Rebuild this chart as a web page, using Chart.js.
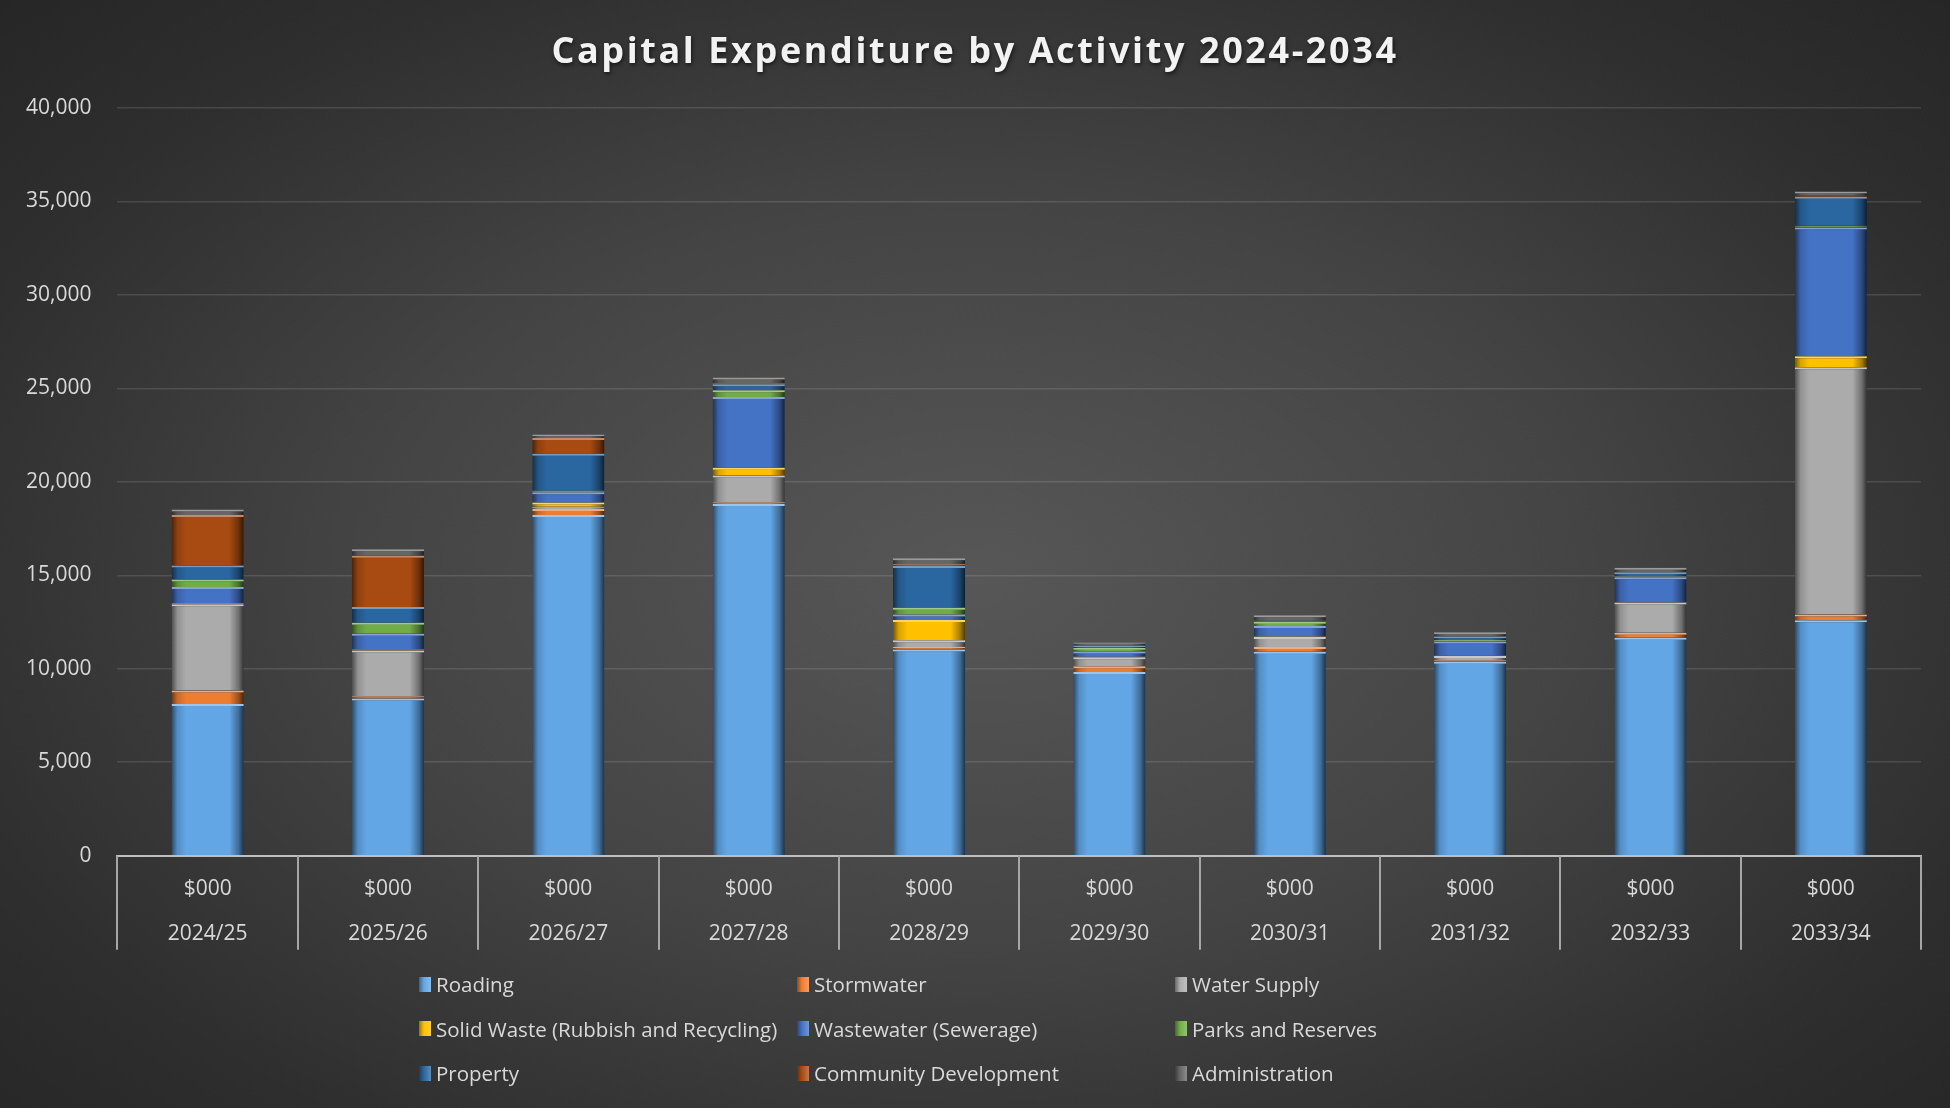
<!DOCTYPE html>
<html>
<head>
<meta charset="utf-8">
<script src="https://cdn.jsdelivr.net/npm/chart.js@4/dist/chart.umd.min.js"></script>
<style>
    html, body { margin: 0; padding: 0; overflow: hidden; }
    body { width: 1950px; height: 1108px; }
    #wrap {
        position: relative;
        width: 1950px;
        height: 1108px;
        background: radial-gradient(ellipse 70% 75% at 50% 52%, #575757 0%, #444444 45%, #2e2e2e 80%, #262626 100%);
    }
    #chart { position: absolute; left: 0; top: 0; }
    #legend {
        position: absolute;
        left: 419px;
        top: 962px;
        display: grid;
        grid-template-columns: 378px 378px 378px;
        grid-auto-rows: 44.5px;
        font-family: "Open Sans", sans-serif;
        font-size: 20.5px;
        color: #d9d9d9;
    }
    .item { display: flex; align-items: center; white-space: nowrap; }
    .swatch { width: 12px; height: 15px; margin-right: 5px; }
</style>
</head>
<body>
<div id="wrap">
    <canvas id="chart" width="1950" height="1108"></canvas>
    <div id="legend"></div>
</div>
<script>
const chartTitle = "Capital Expenditure by Activity 2024-2034";
const categories = ["2024/25", "2025/26", "2026/27", "2027/28", "2028/29", "2029/30", "2030/31", "2031/32", "2032/33", "2033/34"];
const unitLabel = "$000";
const yTicks = [0, 5000, 10000, 15000, 20000, 25000, 30000, 35000, 40000];

const roading = [8120, 8410, 18220, 18810, 11030, 9830, 10910, 10370, 11660, 12590];
const stormwater = [720, 120, 330, 100, 130, 310, 250, 90, 270, 310];
const waterSupply = [4610, 2450, 120, 1430, 360, 480, 540, 220, 1610, 13230];
const solidWaste = [50, 50, 230, 410, 1090, 20, 20, 20, 20, 590];
const wastewater = [870, 840, 540, 3790, 300, 290, 570, 760, 1340, 6890];
const parks = [400, 590, 90, 360, 360, 180, 230, 80, 30, 90];
const property = [760, 840, 1970, 320, 2230, 110, 50, 180, 240, 1550];
const community = [2690, 2740, 850, 50, 90, 40, 0, 0, 0, 50];
const administration = [300, 360, 180, 310, 320, 150, 300, 230, 230, 230];

const series = [
    {label: "Roading", data: roading, color: "#62a6e6"},
    {label: "Stormwater", data: stormwater, color: "#ed7d31"},
    {label: "Water Supply", data: waterSupply, color: "#ababab"},
    {label: "Solid Waste (Rubbish and Recycling)", data: solidWaste, color: "#ffc000"},
    {label: "Wastewater (Sewerage)", data: wastewater, color: "#4472c4"},
    {label: "Parks and Reserves", data: parks, color: "#70ad47"},
    {label: "Property", data: property, color: "#2a66a0"},
    {label: "Community Development", data: community, color: "#a84b12"},
    {label: "Administration", data: administration, color: "#666666"}
];

const barShare = 0.4;
const fontFamily = "'Open Sans', sans-serif";

function shade(hex, amt) {
    const n = parseInt(hex.slice(1), 16);
    let r = (n >> 16) & 255, g = (n >> 8) & 255, b = n & 255;
    const f = c => Math.max(0, Math.min(255, Math.round(amt < 0 ? c * (1 + amt) : c + (255 - c) * amt)));
    return `rgb(${f(r)},${f(g)},${f(b)})`;
}

// horizontal bevel-ish gradient for each bar segment
function barFill(color) {
    return (ctx) => {
        const chart = ctx.chart;
        const area = chart.chartArea;
        const xScale = chart.scales.x;
        if (!area || !xScale) return color;
        const x = xScale.getPixelForValue(ctx.dataIndex);
        const w = area.width / categories.length * barShare;
        const g = chart.ctx.createLinearGradient(x - w / 2, 0, x + w / 2, 0);
        g.addColorStop(0, shade(color, -0.55));
        g.addColorStop(0.08, shade(color, -0.15));
        g.addColorStop(0.2, color);
        g.addColorStop(0.8, color);
        g.addColorStop(0.93, shade(color, -0.35));
        g.addColorStop(1, shade(color, -0.7));
        return g;
    };
}

const datasets = series.map(s => ({
    label: s.label,
    data: s.data,
    backgroundColor: barFill(s.color),
    borderColor: shade(s.color, 0.35),
    borderWidth: {top: 2, left: 0, right: 0, bottom: 0},
    borderSkipped: false,
    barPercentage: barShare,
    categoryPercentage: 1
}));

const legendDiv = document.getElementById("legend");
series.forEach(s => {
    const item = document.createElement("div");
    item.className = "item";
    item.innerHTML = `<span class="swatch" style="background: linear-gradient(90deg, ${shade(s.color, -0.4)}, ${s.color} 40%, ${shade(s.color, 0.25)});"></span>${s.label}`;
    legendDiv.appendChild(item);
});

// title with letter spacing + category separators under the x axis
const decorations = {
    id: "decorations",
    afterDraw(chart) {
        const ctx = chart.ctx;
        const xs = chart.scales.x;

        ctx.save();
        ctx.strokeStyle = "#a6a6a6";
        ctx.lineWidth = 2;
        const step = (xs.right - xs.left) / categories.length;
        for (let i = 0; i <= categories.length; i++) {
            const x = Math.round(xs.left + i * step);
            ctx.beginPath();
            ctx.moveTo(x, xs.top);
            ctx.lineTo(x, xs.top + 94);
            ctx.stroke();
        }
        ctx.restore();

        ctx.save();
        ctx.font = `bold 36px ${fontFamily}`;
        ctx.letterSpacing = "2.6px";
        ctx.fillStyle = "#f2f2f2";
        ctx.textAlign = "center";
        ctx.textBaseline = "middle";
        ctx.shadowColor = "rgba(0,0,0,0.6)";
        ctx.shadowBlur = 4;
        ctx.shadowOffsetX = 1;
        ctx.shadowOffsetY = 2;
        ctx.fillText(chartTitle, chart.width / 2, 53);
        ctx.restore();
    }
};

new Chart(document.getElementById("chart"), {
    type: "bar",
    data: {
        labels: categories.map(c => [unitLabel, c]),
        datasets: datasets
    },
    plugins: [decorations],
    options: {
        responsive: false,
        animation: false,
        layout: {padding: {left: 0, right: 29, top: 108, bottom: 148}},
        plugins: {
            legend: {display: false},
            tooltip: {enabled: false},
            title: {display: false}
        },
        scales: {
            x: {
                stacked: true,
                grid: {display: false},
                border: {display: true, color: "#bfbfbf", width: 2},
                ticks: {
                    color: "#d9d9d9",
                    font: {family: fontFamily, size: 21, lineHeight: 2.15},
                    padding: 3,
                    autoSkip: false,
                    maxRotation: 0
                }
            },
            y: {
                stacked: true,
                min: 0,
                max: 40000,
                afterBuildTicks: axis => { axis.ticks = yTicks.map(v => ({value: v})); },
                grid: {color: "rgba(255,255,255,0.12)", lineWidth: 1.5, drawTicks: false},
                border: {display: false},
                ticks: {
                    color: "#d9d9d9",
                    font: {family: fontFamily, size: 21},
                    padding: 26,
                    callback: v => v.toLocaleString("en-US")
                }
            }
        }
    }
});
</script>
</body>
</html>
